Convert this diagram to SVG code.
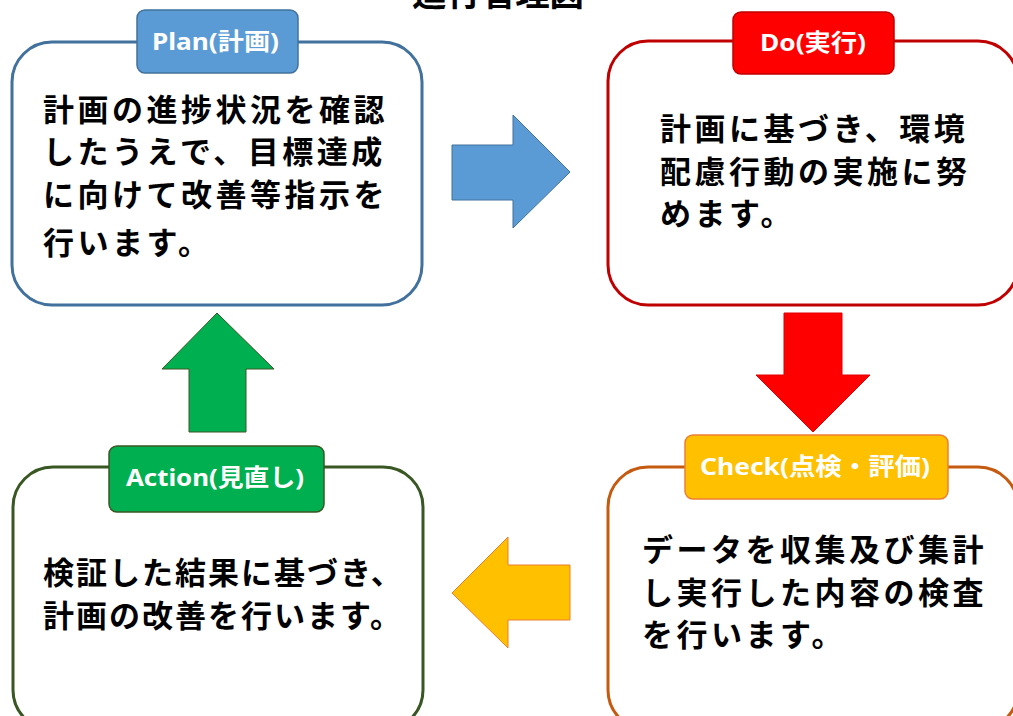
<svg xmlns="http://www.w3.org/2000/svg" width="1013" height="716" viewBox="0 0 1013 716">
<style>
.box{fill:#fff;stroke-width:3}
.lbl{stroke-width:1.5}
.lt{font-family:"Noto Sans","Noto Sans CJK JP",sans-serif;font-weight:bold;font-size:24px;fill:#fff;text-anchor:middle}
.bt{font-family:"Noto Sans CJK JP",sans-serif;font-weight:bold;font-size:31px;fill:#000;letter-spacing:3.5px}
.title{font-family:"Noto Sans CJK JP",sans-serif;font-weight:bold;font-size:34px;fill:#000;text-anchor:middle}
</style>
<rect width="1013" height="716" fill="#fff"/>
<text class="title" x="498" y="6" textLength="172" lengthAdjust="spacingAndGlyphs">進行管理図</text>
<g id="connectors">
<polygon points="452,145 513,145 513,115 570,172 513,228 513,200 452,200" fill="#5B9BD5" stroke="#41719C" stroke-width="1"/>
<polygon points="784,313 842,313 842,375 870,375 813,432 756,375 784,375" fill="#FF0000" stroke="#E00000" stroke-width="1"/>
<polygon points="570,565 508,565 508,537 452,593 508,648 508,620 570,620" fill="#FFC000" stroke="#ED7D31" stroke-width="1"/>
<polygon points="189,432 246,432 246,369 274,369 217,313 162,369 189,369" fill="#00B050" stroke="#385723" stroke-width="1"/>
</g>
<g id="plan">
<rect class="box" x="12" y="42" width="410" height="263" rx="40" stroke="#41719C"/>
<rect class="lbl" x="137" y="10" width="161" height="63" rx="8" fill="#5B9BD5" stroke="#41719C"/>
<text class="lt" x="215.5" y="50" textLength="127" lengthAdjust="spacingAndGlyphs">Plan(計画)</text>
<text class="bt" x="43" y="121">計画の進捗状況を確認</text>
<text class="bt" x="43" y="163">したうえで、目標達成</text>
<text class="bt" x="43" y="206">に向けて改善等指示を</text>
<text class="bt" x="43" y="254">行います。</text>
</g>
<g id="do">
<rect class="box" x="608" y="41" width="410" height="264" rx="40" stroke="#C00000"/>
<rect class="lbl" x="733" y="12" width="161" height="62" rx="8" fill="#FF0000" stroke="#C00000"/>
<text class="lt" x="813" y="51" textLength="106" lengthAdjust="spacingAndGlyphs">Do(実行)</text>
<text class="bt" x="660" y="140">計画に基づき、環境</text>
<text class="bt" x="660" y="183">配慮行動の実施に努</text>
<text class="bt" x="660" y="225">めます。</text>
</g>
<g id="check">
<rect class="box" x="608" y="467" width="410" height="263" rx="40" stroke="#C55A11"/>
<rect class="lbl" x="685" y="435" width="263" height="64" rx="8" fill="#FFC000" stroke="#ED7D31"/>
<text class="lt" x="815" y="475" textLength="230" lengthAdjust="spacingAndGlyphs">Check(点検・評価)</text>
<text class="bt" x="642" y="561">データを収集及び集計</text>
<text class="bt" x="642" y="604">し実行した内容の検査</text>
<text class="bt" x="642" y="646">を行います。</text>
</g>
<g id="action">
<rect class="box" x="13" y="467" width="410" height="263" rx="40" stroke="#385723"/>
<rect class="lbl" x="109" y="446" width="215" height="66" rx="8" fill="#00B050" stroke="#385723"/>
<text class="lt" x="215" y="486" textLength="178" lengthAdjust="spacingAndGlyphs">Action(見直し)</text>
<text class="bt" x="43" y="584" style="letter-spacing:2px">検証した結果に基づき、</text>
<text class="bt" x="43" y="627" style="letter-spacing:2px">計画の改善を行います。</text>
</g>
</svg>
